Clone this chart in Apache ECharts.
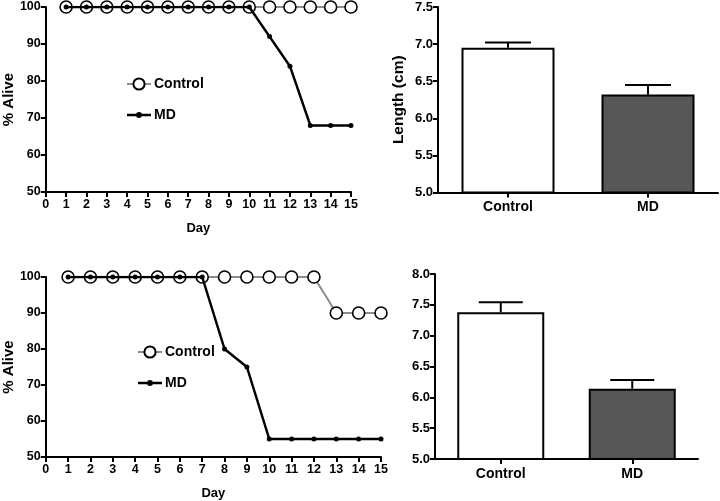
<!DOCTYPE html>
<html><head><meta charset="utf-8">
<script src="https://cdn.jsdelivr.net/npm/echarts@6/dist/echarts.min.js"></script>
<style>html,body{margin:0;padding:0;background:#fff}#c{width:720px;height:501px}</style>
</head><body><div id="c"></div>
<script>
const days = [1,2,3,4,5,6,7,8,9,10,11,12,13,14,15];
const topControl = [100,100,100,100,100,100,100,100,100,100,100,100,100,100,100];
const topMD      = [100,100,100,100,100,100,100,100,100,100,92,84,68,68,68];
const botControl = [100,100,100,100,100,100,100,100,100,100,100,100,90,90,90];
const botMD      = [100,100,100,100,100,100,100,80,75,55,55,55,55,55,55];
const barCats = ['Control','MD'];
const topLength = [6.95, 6.32];
const topUpper  = [7.02, 6.45];
const botLength = [7.38, 6.14];
const botUpper  = [7.54, 6.28];

const SANS = "'Liberation Sans',Arial,sans-serif";

function pairs(xs, ys){ return xs.map((x,i)=>[x, ys[i]]); }

function lineX(gi, name){
  return {gridIndex: gi, type:'value', min:0, max:15, interval:1,
    name: name, nameLocation:'middle', nameGap:30,
    nameTextStyle:{fontFamily:SANS, fontWeight:'bold', fontSize:13, color:'#000'},
    axisLine:{show:true, lineStyle:{color:'#000', width:2}},
    axisTick:{show:true, length:5, lineStyle:{color:'#000', width:2}},
    axisLabel:{fontFamily:SANS, fontWeight:'bold', fontSize:12.5, color:'#000', margin:6},
    splitLine:{show:false}};
}
function lineY(gi){
  return {gridIndex: gi, type:'value', min:50, max:100, interval:10,
    name:'% Alive', nameLocation:'middle', nameGap:25, nameRotate:90,
    nameTextStyle:{fontFamily:SANS, fontWeight:'bold', fontSize:15, color:'#000'},
    axisLine:{show:true, lineStyle:{color:'#000', width:2}},
    axisTick:{show:true, length:5, lineStyle:{color:'#000', width:2}},
    axisLabel:{fontFamily:SANS, fontWeight:'bold', fontSize:12.5, color:'#000', margin:5},
    splitLine:{show:false}};
}
function barX(gi){
  return {gridIndex: gi, type:'category', data: barCats,
    axisLine:{show:true, lineStyle:{color:'#000', width:2}},
    axisTick:{show:true, alignWithLabel:true, length:5, lineStyle:{color:'#000', width:2}},
    axisLabel:{fontFamily:SANS, fontWeight:'bold', fontSize:14, color:'#000', margin:8},
    splitLine:{show:false}};
}
function barY(gi, min, max, name){
  return {gridIndex: gi, type:'value', min:min, max:max, interval:0.5,
    name: name, nameLocation:'middle', nameGap:31, nameRotate:90,
    nameTextStyle:{fontFamily:SANS, fontWeight:'bold', fontSize:15.5, color:'#000'},
    axisLine:{show:true, lineStyle:{color:'#000', width:2}},
    axisTick:{show:true, length:5, lineStyle:{color:'#000', width:2}},
    axisLabel:{fontFamily:SANS, fontWeight:'bold', fontSize:13, color:'#000', margin:5,
      formatter: v => v.toFixed(1)},
    splitLine:{show:false}};
}
function controlSeries(gi, ys){
  return {name:'Control', type:'line', xAxisIndex:gi, yAxisIndex:gi, data:pairs(days, ys),
    symbol:'circle', symbolSize:12, z:2,
    lineStyle:{color:'#8c8c8c', width:2},
    itemStyle:{color:'#fff', borderColor:'#000', borderWidth:1.6}};
}
function mdSeries(gi, ys){
  return {name:'MD', type:'line', xAxisIndex:gi, yAxisIndex:gi, data:pairs(days, ys),
    symbol:'circle', symbolSize:5, z:3,
    lineStyle:{color:'#000', width:2.5},
    itemStyle:{color:'#000'}};
}
function barSeries(gi, vals, bw){
  return {name:'Length'+gi, type:'bar', xAxisIndex:gi, yAxisIndex:gi, barWidth:bw,
    data: vals.map((v,i)=>({value:v, itemStyle:{color: i===0 ? '#ffffff' : '#575757'}})),
    itemStyle:{borderColor:'#000', borderWidth:2}, z:2};
}
function errSeries(gi, vals, ups, capHalf){
  return {type:'custom', xAxisIndex:gi, yAxisIndex:gi, z:3,
    data: vals.map((v,i)=>[i, v, ups[i]]),
    renderItem:function(params, api){
      const p0 = api.coord([api.value(0), api.value(1)]);
      const p1 = api.coord([api.value(0), api.value(2)]);
      const st = {stroke:'#000', lineWidth:2};
      return {type:'group', children:[
        {type:'line', shape:{x1:p0[0], y1:p0[1], x2:p1[0], y2:p1[1]}, style:st},
        {type:'line', shape:{x1:p1[0]-capHalf, y1:p1[1], x2:p1[0]+capHalf, y2:p1[1]}, style:st}
      ]};
    }};
}
const MD_ICON = 'path://M0,1.75 L24,1.75 L24,4.25 L0,4.25 Z M12,0 A3,3 0 1,1 11.99,0 Z';
function legend(left, top){
  return {show:true, orient:'vertical', left:left, top:top, itemGap:17, itemWidth:24, itemHeight:14,
    data:['Control', {name:'MD', icon: MD_ICON}], selectedMode:false, symbolKeepAspect:true,
    textStyle:{fontFamily:SANS, fontWeight:'bold', fontSize:14, color:'#000', padding:[0,0,0,-2]}};
}

const chart = echarts.init(document.getElementById('c'), null, {renderer:'canvas'});
chart.setOption({
  backgroundColor:'#fff',
  animation:false,
  legend:[legend(121, 72), legend(132, 340)],
  grid:[
    {left:38, top:7, width:313, height:185},
    {left:438, top:7, width:280, height:185.5},
    {left:42, top:277, width:339, height:181},
    {left:435, top:274, width:263, height:185}
  ],
  xAxis:[lineX(0,'Day'), barX(1), lineX(2,'Day'), barX(3)],
  yAxis:[lineY(0), barY(1,5,7.5,'Length (cm)'), lineY(2), barY(3,5,8,'')],
  series:[
    controlSeries(0, topControl), mdSeries(0, topMD),
    barSeries(1, topLength, 93), errSeries(1, topLength, topUpper, 23),
    controlSeries(2, botControl), mdSeries(2, botMD),
    barSeries(3, botLength, 87), errSeries(3, botLength, botUpper, 22)
  ]
});
</script></body></html>
